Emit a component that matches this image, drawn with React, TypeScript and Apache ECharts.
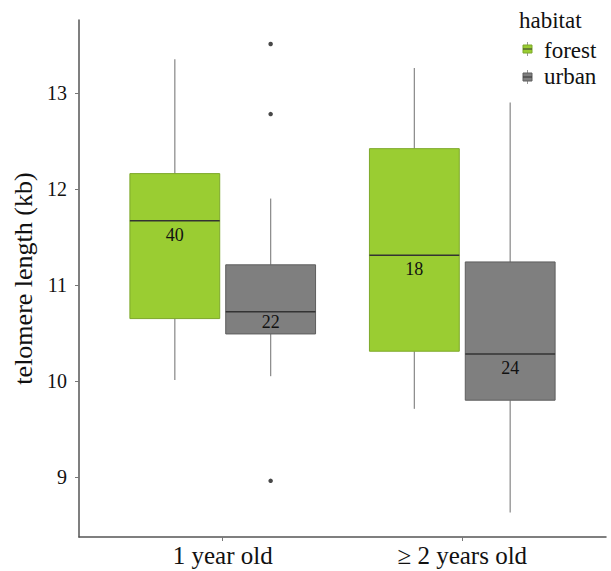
import React, { useEffect, useRef } from "react";
import * as echarts from "echarts";

// ---- data ----
const categories = ["1 year old", "≥ 2 years old"];
const habitats = ["forest", "urban"];
const yTicks = [9, 10, 11, 12, 13];
// [min, q1, median, q3, max] per category
const forestStats = [
  [10.01, 10.65, 11.67, 12.16, 13.35],
  [9.71, 10.31, 11.31, 12.42, 13.26],
];
const urbanStats = [
  [10.05, 10.49, 10.72, 11.21, 11.9],
  [8.63, 9.8, 10.28, 11.24, 12.9],
];
const forestN = [40, 18];
const urbanN = [22, 24];
const forestLabelY = [11.52, 11.17];
const urbanLabelY = [10.61, 10.14];
// [category index, value]
const urbanOutliers = [
  [0, 13.51],
  [0, 12.78],
  [0, 8.96],
];

const FONT = "Liberation Serif, Times New Roman, serif";
const colors = { forest: "#9ACD32", urban: "#7F7F7F" };
const borders = { forest: "#7DA82A", urban: "#5E5E5E" };
const DODGE = 0.2;
const HALF = 0.1875;

function buildData(stats: number[][], ns: number[], ly: number[]) {
  return stats.map((s, i) => [i, ...s, ns[i], ly[i]]);
}

function makeRender(offset: number, fill: string, stroke: string) {
  return (params: any, api: any) => {
    const ci = api.value(0) + 1 + offset;
    const mn = api.value(1), q1 = api.value(2), md = api.value(3), q3 = api.value(4), mx = api.value(5);
    const n = api.value(6), ly = api.value(7);
    const pMax = api.coord([ci, mx]);
    const pMin = api.coord([ci, mn]);
    const pQ1 = api.coord([ci, q1]);
    const pQ3 = api.coord([ci, q3]);
    const pMd = api.coord([ci, md]);
    const left = api.coord([ci - HALF, q3])[0];
    const right = api.coord([ci + HALF, q3])[0];
    const pL = api.coord([ci, ly]);
    const wStyle = { stroke: "#8f8f8f", lineWidth: 1.3 };
    return {
      type: "group",
      children: [
        { type: "line", shape: { x1: pMax[0], y1: pMax[1], x2: pQ3[0], y2: pQ3[1] }, style: wStyle },
        { type: "line", shape: { x1: pQ1[0], y1: pQ1[1], x2: pMin[0], y2: pMin[1] }, style: wStyle },
        {
          type: "rect",
          shape: { x: left, y: pQ3[1], width: right - left, height: pQ1[1] - pQ3[1] },
          style: { fill, stroke, lineWidth: 1 },
        },
        { type: "line", shape: { x1: left, y1: pMd[1], x2: right, y2: pMd[1] }, style: { stroke: "#333333", lineWidth: 1.5 } },
        {
          type: "text",
          x: pL[0],
          y: pL[1],
          style: { text: String(n), fontFamily: FONT, fontSize: 18, fill: "#111", align: "center", verticalAlign: "middle" },
        },
      ],
    };
  };
}

function legendKey(y: number, fill: string, stroke: string) {
  return [
    { type: "line", shape: { x1: 527.5, y1: y - 7, x2: 527.5, y2: y + 7 }, style: { stroke: "#999", lineWidth: 1 } },
    { type: "rect", shape: { x: 523, y: y - 4, width: 9, height: 8 }, style: { fill, stroke, lineWidth: 1 } },
    { type: "line", shape: { x1: 523, y1: y, x2: 532, y2: y }, style: { stroke: "#333", lineWidth: 1 } },
  ];
}

export default function App() {
  const ref = useRef<HTMLDivElement>(null);
  useEffect(() => {
    if (!ref.current) return;
    const chart = echarts.init(ref.current, null, { renderer: "svg" });
    chart.setOption({
      animation: false,
      backgroundColor: "#ffffff",
      textStyle: { fontFamily: FONT },
      grid: { left: 79, right: 5, top: 20, bottom: 34 },
      xAxis: {
        type: "value",
        min: 0.4,
        max: 2.6,
        splitLine: { show: false },
        axisLine: { show: true, lineStyle: { color: "#555", width: 1.5 } },
        axisTick: { show: true, customValues: [1, 2], length: 4, lineStyle: { color: "#777" } },
        axisLabel: {
          customValues: [1, 2],
          formatter: (v: number) => categories[Math.round(v) - 1],
          fontSize: 25,
          color: "#111",
          margin: 6,
          fontFamily: FONT,
        },
      },
      yAxis: {
        type: "value",
        min: 8.375,
        max: 13.76,
        splitLine: { show: false },
        name: "telomere length (kb)",
        nameLocation: "middle",
        nameGap: 40,
        nameTextStyle: { fontSize: 26, color: "#111", fontFamily: FONT },
        axisLine: { show: true, lineStyle: { color: "#555", width: 1.5 } },
        axisTick: { show: true, customValues: yTicks, length: 4, lineStyle: { color: "#777" } },
        axisLabel: { customValues: yTicks, fontSize: 20, color: "#111", margin: 12, fontFamily: FONT },
      },
      series: [
        {
          name: habitats[0],
          type: "custom",
          renderItem: makeRender(-DODGE, colors.forest, borders.forest),
          encode: { x: 0, y: [1, 5] },
          data: buildData(forestStats, forestN, forestLabelY),
          z: 2,
        },
        {
          name: habitats[1],
          type: "custom",
          renderItem: makeRender(DODGE, colors.urban, borders.urban),
          encode: { x: 0, y: [1, 5] },
          data: buildData(urbanStats, urbanN, urbanLabelY),
          z: 2,
        },
        {
          name: "urban outliers",
          type: "scatter",
          symbolSize: 4.5,
          itemStyle: { color: "#1a1a1a" },
          data: urbanOutliers.map(([c, v]) => [c + 1 + DODGE, v]),
          z: 3,
        },
      ],
      graphic: [
        { type: "text", x: 519, y: 20, style: { text: "habitat", fontFamily: FONT, fontSize: 23, fill: "#111", verticalAlign: "middle" } },
        ...legendKey(49, colors.forest, borders.forest),
        ...legendKey(77, colors.urban, borders.urban),
        { type: "text", x: 544, y: 50, style: { text: habitats[0], fontFamily: FONT, fontSize: 23, fill: "#111", verticalAlign: "middle" } },
        { type: "text", x: 544, y: 76, style: { text: habitats[1], fontFamily: FONT, fontSize: 23, fill: "#111", verticalAlign: "middle" } },
      ],
    });
    return () => chart.dispose();
  }, []);
  return <div ref={ref} style={{ position: "fixed", left: 0, top: 0, width: 611, height: 571 }} />;
}
